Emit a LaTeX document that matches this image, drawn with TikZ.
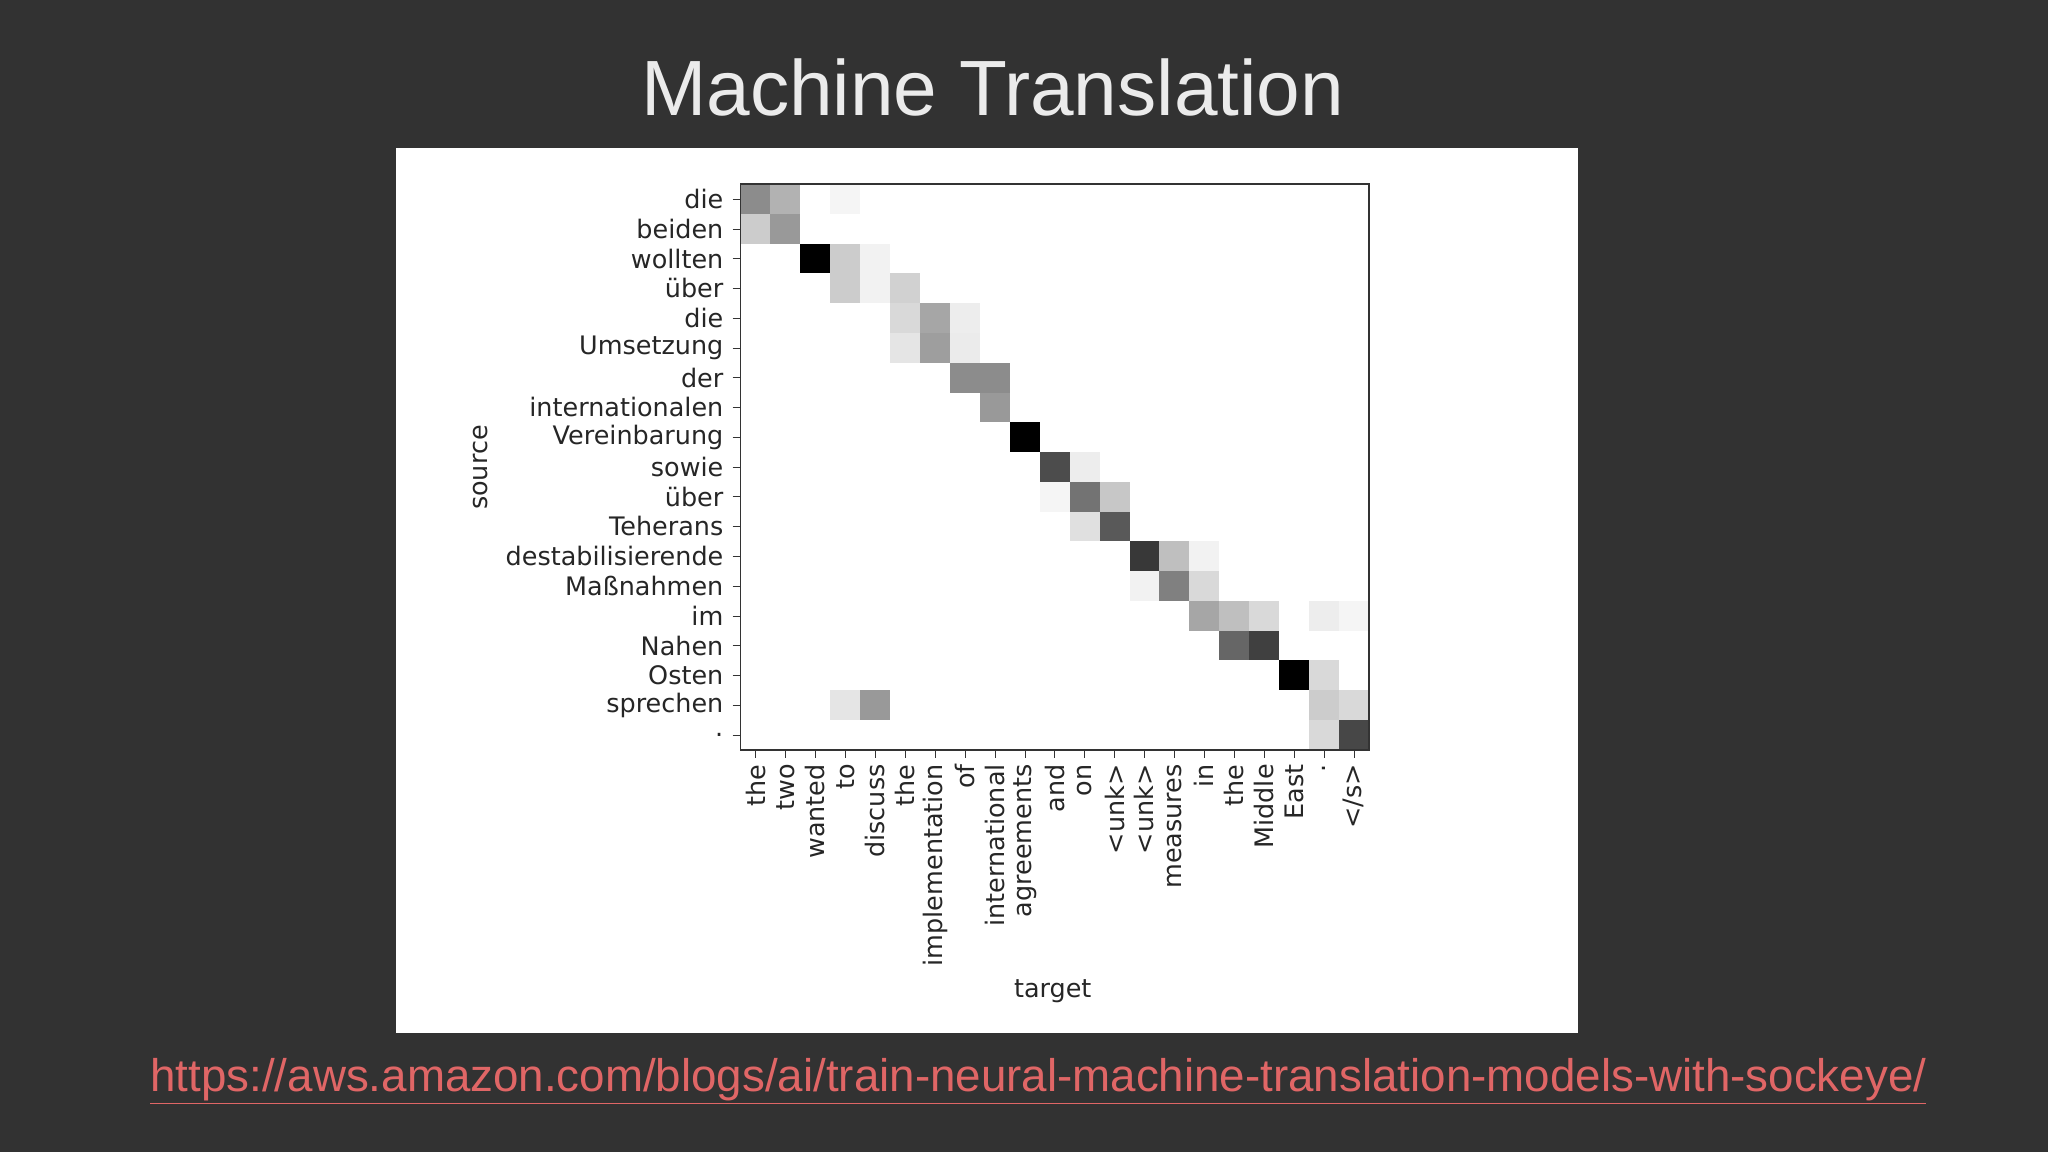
\documentclass[tikz,border=0pt]{standalone}
\usepackage{fontspec}
\setmainfont{Liberation Sans}
\newfontfamily\plotfont{DejaVu Sans}
\definecolor{bgc}{HTML}{323232}
\definecolor{urlc}{HTML}{E06666}
\begin{document}
\begin{tikzpicture}[x=1pt,y=-1pt,
  tick/.style={font=\plotfont\fontsize{19.5}{19.5}\selectfont,text=black!85,inner sep=1pt}]
\fill[bgc] (0,0) rectangle (1568,882);
\useasboundingbox (0,0) rectangle (1568,882);
\node[text=white!92!black,font=\fontsize{60}{60}\selectfont] (title) at (760,67) {Machine Translation};
\fill[white] (303,113) rectangle (1208,791);
\def\cw{22.905}\def\ch{22.79}
% cells: row/col/gray
\foreach \r/\c/\g in {0/0/55,0/1/70,0/3/96,1/0/80,1/1/60,2/2/0,2/3/80,2/4/95,3/3/80,3/4/95,3/5/82,
 4/5/85,4/6/65,4/7/93,5/5/90,5/6/62,5/7/92,6/7/55,6/8/55,7/8/60,8/9/0,9/10/30,9/11/93,
 10/10/96,10/11/45,10/12/78,11/11/88,11/12/35,12/13/22,12/14/75,12/15/95,13/13/95,13/14/50,13/15/85,
 14/15/65,14/16/75,14/17/85,14/19/93,14/20/96,15/16/40,15/17/25,16/18/0,16/19/85,
 17/3/90,17/4/60,17/19/80,17/20/85,18/19/85,18/20/28}
 \fill[black!\the\numexpr100-\g\relax!white] ({567+\c*\cw},{141+\r*\ch}) rectangle ++(\cw,\ch);
\draw[black!80,line width=1.2pt] (567,141) rectangle (1048,574);
\foreach \w [count=\i from 0] in {die,beiden,wollten,über,die,Umsetzung,der,internationalen,Vereinbarung,sowie,über,Teherans,destabilisierende,Maßnahmen,im,Nahen,Osten,sprechen,.}{
  \draw[black!80] (561,{141+(\i+0.5)*\ch}) -- (567,{141+(\i+0.5)*\ch});
  \node[tick,anchor=east] (s\i) at (555,{141+(\i+0.5)*\ch}) {\w};
}
\foreach \w [count=\j from 0] in {the,two,wanted,to,discuss,the,implementation,of,international,agreements,and,on,<unk>,<unk>,measures,in,the,Middle,East,.,</s>}{
  \draw[black!80] ({567+(\j+0.5)*\cw},574) -- ({567+(\j+0.5)*\cw},580);
  \node[tick,anchor=east,rotate=90] (t\j) at ({567+(\j+0.5)*\cw},584) {\w};
}
\node[tick,rotate=90] (src) at (368,358) {source};
\node[tick] (tgt) at (806,759) {target};
\node[text=urlc,font=\fontsize{35}{35}\selectfont] (url) at (795,828) {\underline{https://aws.amazon.com/blogs/ai/train-neural-machine-translation-models-with-sockeye/}};
\end{tikzpicture}
\end{document}
